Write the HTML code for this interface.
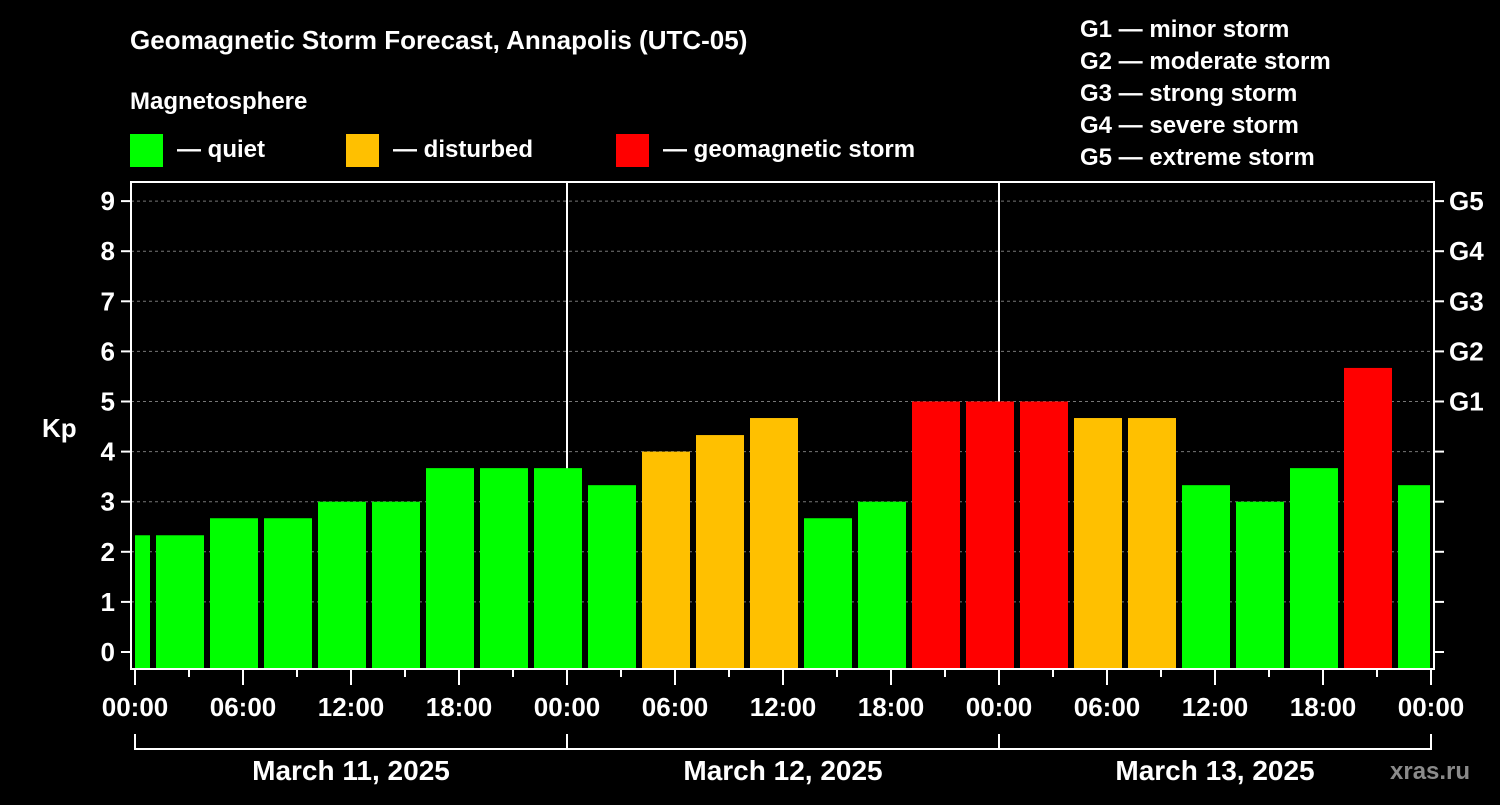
<!DOCTYPE html>
<html><head><meta charset="utf-8"><style>
body{margin:0;background:#000;width:1500px;height:800px;overflow:hidden}
svg text{font-family:"Liberation Sans",Arial,sans-serif;font-weight:bold;fill:#fff}
</style></head><body>
<svg id="c" width="1500" height="800" xmlns="http://www.w3.org/2000/svg">
<text x="130" y="49" font-size="26">Geomagnetic Storm Forecast, Annapolis (UTC-05)</text>
<text x="130" y="109" font-size="24">Magnetosphere</text>
<rect x="130" y="134" width="33" height="33" fill="#00ff00"/>
<text x="177" y="157" font-size="24">— quiet</text>
<rect x="346" y="134" width="33" height="33" fill="#ffc000"/>
<text x="393" y="157" font-size="24">— disturbed</text>
<rect x="616" y="134" width="33" height="33" fill="#ff0000"/>
<text x="663" y="157" font-size="24">— geomagnetic storm</text>
<g font-size="24">
<text x="1080" y="37">G1 — minor storm</text>
<text x="1080" y="69">G2 — moderate storm</text>
<text x="1080" y="101">G3 — strong storm</text>
<text x="1080" y="133">G4 — severe storm</text>
<text x="1080" y="165">G5 — extreme storm</text>
</g>
<text x="42" y="437" font-size="26">Kp</text>
<text x="1390" y="779" font-size="24" fill="#888" style="fill:#8a8a8a">xras.ru</text>
<g id="grid"></g><g id="bars"></g><g id="axes"></g>
</svg>
<script>
const kpValues=[2.33,2.33,2.67,2.67,3,3,3.67,3.67,3.67,3.33,4,4.33,4.67,2.67,3,5,5,5,4.67,4.67,3.33,3,3.67,5.67,3.33];
const barStartHour=-0.5;
const yTicks=[0,1,2,3,4,5,6,7,8,9];
const gLabels=["G1","G2","G3","G4","G5"];
const hourLabels=["00:00","06:00","12:00","18:00","00:00","06:00","12:00","18:00","00:00","06:00","12:00","18:00","00:00"];
const dayLabels=["March 11, 2025","March 12, 2025","March 13, 2025"];
const NS="http://www.w3.org/2000/svg";
const L=131,R=1434,T=182,B=669;
const x=h=>135+18*h;
const y=k=>652-50.1*k;
function mk(p,tag,a){const e=document.createElementNS(NS,tag);for(const k in a)e.setAttribute(k,a[k]);p.appendChild(e);return e;}
const grid=document.getElementById('grid'),bars=document.getElementById('bars'),axes=document.getElementById('axes');
yTicks.forEach(k=>{if(k>0){const l=mk(grid,'line',{x1:L,x2:R,y1:y(k),y2:y(k),stroke:'#777','stroke-dasharray':'3,3'});

}
mk(axes,'line',{x1:L-10,x2:L,y1:y(k),y2:y(k),stroke:'#fff','stroke-width':2});
mk(axes,'line',{x1:R,x2:R+10,y1:y(k),y2:y(k),stroke:'#fff','stroke-width':2});
const t=mk(axes,'text',{x:L-16,y:y(k)+9,'font-size':26,'text-anchor':'end'});t.textContent=k;

});
gLabels.forEach((g,i)=>{const t=mk(axes,'text',{x:1449,y:y(5+i)+9,'font-size':26});t.textContent=g;

});
[1,2].forEach(d=>{const l=mk(grid,'line',{x1:x(24*d),x2:x(24*d),y1:T,y2:B,stroke:'#fff','stroke-width':2});

});
const clip=mk(mk(document.getElementById('c'),'defs',{}),'clipPath',{id:'pc'});mk(clip,'rect',{x:L+4,y:T,width:R-L-8,height:B-T});
bars.setAttribute('clip-path','url(#pc)');
kpValues.forEach((v,i)=>{const c=(v>=5?'#ff0000':v>=4?'#ffc000':'#00ff00');const h0=barStartHour+3*i;
const r=mk(bars,'rect',{x:x(h0)-24,width:48,y:y(v),height:B-1-y(v),fill:c});

});
const fr=mk(axes,'rect',{x:L,y:T,width:R-L,height:B-T,fill:'none',stroke:'#fff','stroke-width':2});


for(let h=0;h<=72;h+=3){mk(axes,'line',{x1:x(h),x2:x(h),y1:B,y2:B+(h%6==0?16:8),stroke:'#fff','stroke-width':2});}
hourLabels.forEach((s,i)=>{const t=mk(axes,'text',{x:x(6*i),y:716,'font-size':26,'text-anchor':'middle'});t.textContent=s;

});
dayLabels.forEach((s,i)=>{mk(axes,'path',{d:`M${x(24*i)},734V749H${x(24*i+24)}V734`,fill:'none',stroke:'#fff','stroke-width':2});
const t=mk(axes,'text',{x:x(24*i+12),y:780,'font-size':28,'text-anchor':'middle'});t.textContent=s;

});
</script>
</body></html>
